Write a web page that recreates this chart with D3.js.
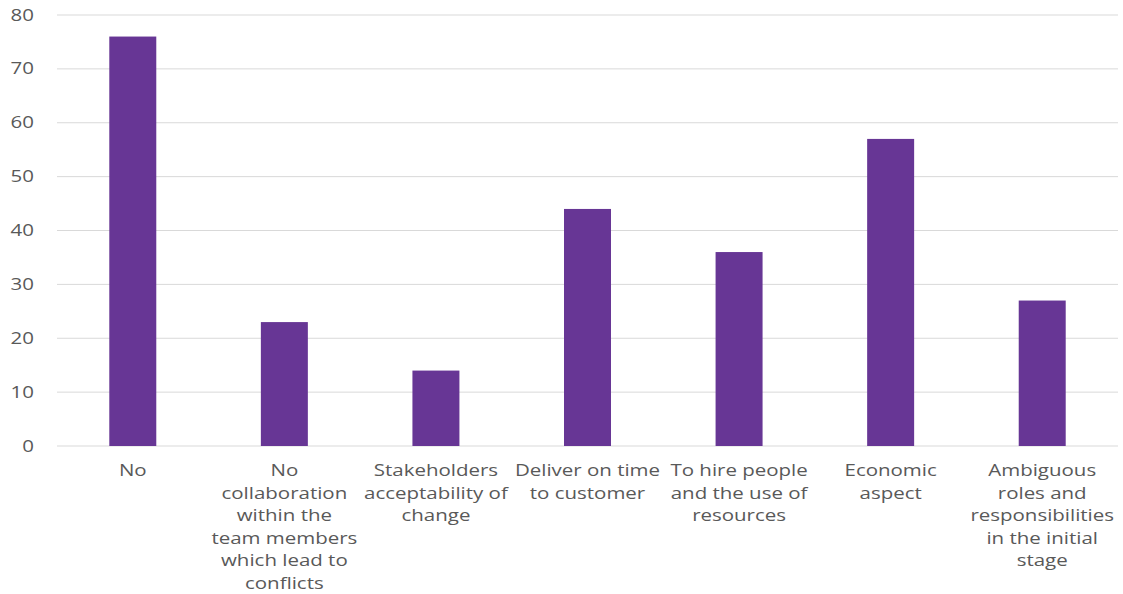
<!DOCTYPE html>
<html>
<head>
<meta charset="utf-8">
<script src="https://cdn.jsdelivr.net/npm/d3@7"></script>
<style>
  html, body { margin: 0; padding: 0; background: #fff; }
  svg { display: block; }
  text { font-family: "Open Sans", sans-serif; fill: #595959; }
</style>
</head>
<body>
<svg id="chart" width="1123" height="594"></svg>
<script>
// Categories (each label split into its wrapped lines)
const categories = [
  ["No"],
  ["No", "collaboration", "within the", "team members", "which lead to", "conflicts"],
  ["Stakeholders", "acceptability of", "change"],
  ["Deliver on time", "to customer"],
  ["To hire people", "and the use of", "resources"],
  ["Economic", "aspect"],
  ["Ambiguous", "roles and", "responsibilities", "in the initial", "stage"]
];
const values = [76, 23, 14, 44, 36, 57, 27];
const yTicks = [0, 10, 20, 30, 40, 50, 60, 70, 80];

const svg = d3.select("#chart");
const plot = { left: 57, right: 1118, top: 15, bottom: 446 };
const textStretch = 1.28; // wide lettering

const x = d3.scaleBand()
  .domain(d3.range(categories.length))
  .range([plot.left, plot.right])
  .paddingInner(0.69)
  .paddingOuter(0.345);

const y = d3.scaleLinear().domain([0, 80]).range([plot.bottom, plot.top]);

// Horizontal gridlines
svg.append("g")
  .selectAll("line")
  .data(yTicks)
  .join("line")
  .attr("x1", plot.left).attr("x2", plot.right)
  .attr("y1", d => y(d)).attr("y2", d => y(d))
  .attr("stroke", "#d9d9d9")
  .attr("stroke-width", 1);

// Y tick labels
svg.append("g")
  .selectAll("text")
  .data(yTicks)
  .join("text")
  .attr("transform", d => `translate(34,${y(d)}) scale(${textStretch},1)`)
  .attr("dy", "0.35em")
  .attr("text-anchor", "end")
  .style("font-size", "16px")
  .text(d => d);

// Bars
svg.append("g")
  .selectAll("rect")
  .data(values)
  .join("rect")
  .attr("x", (d, i) => x(i))
  .attr("width", x.bandwidth())
  .attr("y", d => y(d))
  .attr("height", d => y(0) - y(d))
  .attr("fill", "#673695");

// Category labels
const lab = svg.append("g")
  .selectAll("text")
  .data(categories)
  .join("text")
  .attr("text-anchor", "middle")
  .attr("transform", (d, i) => `translate(${x(i) + x.bandwidth() / 2},476) scale(${textStretch},1)`)
  .style("font-size", "16px");

lab.selectAll("tspan")
  .data(d => d)
  .join("tspan")
  .attr("x", 0)
  .attr("y", (d, j) => j * 22.6)
  .text(d => d);
</script>
</body>
</html>
